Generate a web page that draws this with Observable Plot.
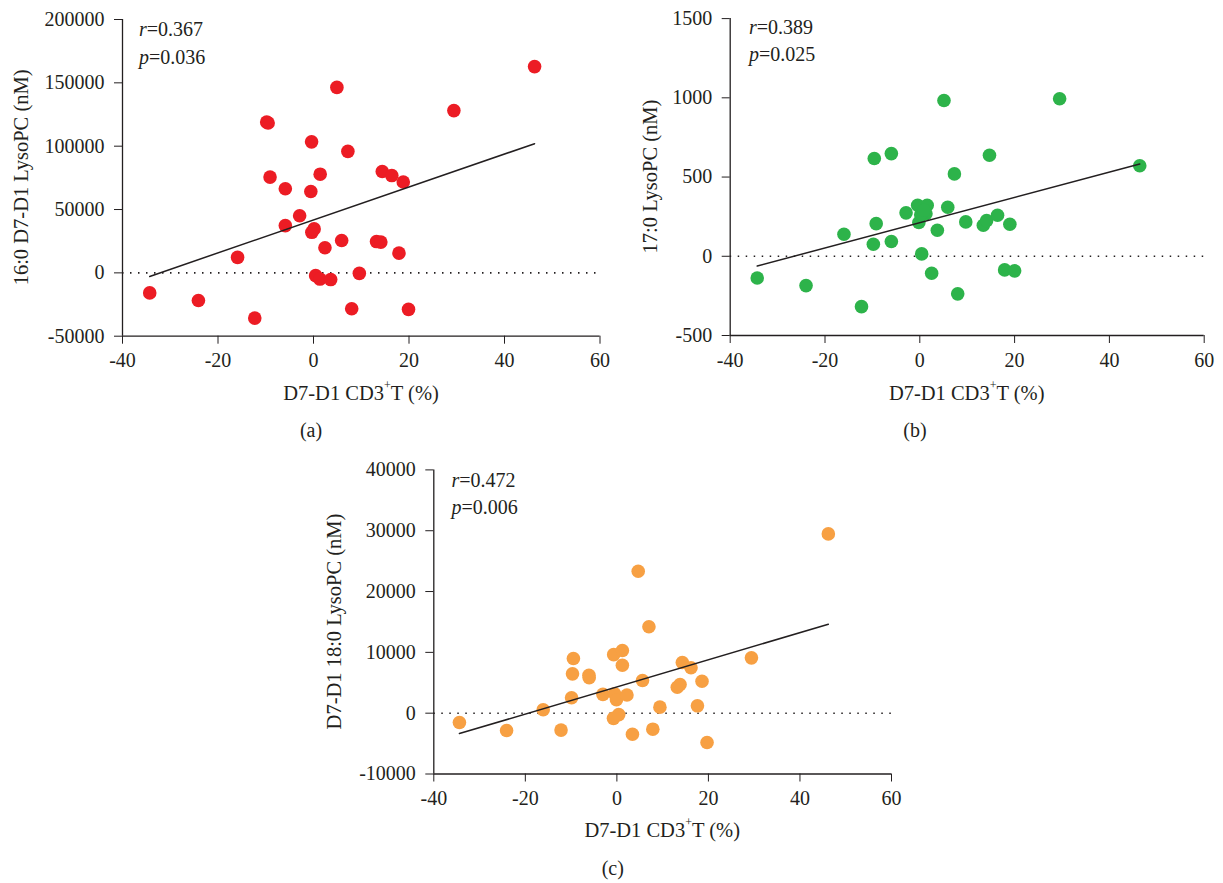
<!DOCTYPE html>
<html><head><meta charset="utf-8">
<script src="https://cdn.jsdelivr.net/npm/d3@7"></script>
<script src="https://cdn.jsdelivr.net/npm/@observablehq/plot@0.6"></script>
<style>
body{margin:0;background:#fff;}
#root{position:relative;width:1223px;height:883px;overflow:hidden;background:#fff;}
#root svg{position:absolute;overflow:visible;}
</style></head><body><div id="root"></div>
<script>
// shared x-axis ticks
const xTicks = [-40, -20, 0, 20, 40, 60];

// (a) 16:0 D7-D1 LysoPC
const aX = [-34.3, -24.1, -12.3, -15.9, -9.8, -9.5, -9.1, -5.9, -5.9, -2.9, -0.4, -0.56, -0.35, 0.13, 1.4, 2.4, 4.9, 7.2, 5.9, 0.45, 1.35, 3.6, 9.6, 8.0, 13.2, 14.1, 14.4, 16.4, 18.8, 17.9, 19.9, 29.4, 46.3];
const aY = [-15800, -21800, -35700, 12200, 119000, 118300, 75600, 66400, 37300, 45100, 103400, 64200, 32000, 34700, 77900, 19800, 146400, 95900, 25500, -2200, -4900, -5300, -400, -28300, 24700, 24300, 80000, 76800, 71700, 15600, -28800, 128100, 162800];
const aTicks = [-50000, 0, 50000, 100000, 150000, 200000];

// (b) 17:0 LysoPC
const bX = [-34.3, -24.0, -12.3, -16.0, -9.6, -9.2, -9.8, -6.0, -6.0, -2.9, -0.45, 1.56, 1.3, -0.2, 0.2, 0.9, 0.4, 2.5, 3.7, 5.1, 5.9, 7.3, 8.0, 9.7, 13.4, 14.1, 14.7, 16.4, 17.9, 19.0, 20.0, 29.5, 46.4];
const bY = [-137, -185, -318, 139, 617, 206, 76, 648, 93, 274, 322, 322, 268, 213, 262, 290, 15, -107, 164, 983, 309, 520, -237, 217, 196, 225, 638, 259, -86, 202, -92, 994, 571];
const bTicks = [-500, 0, 500, 1000, 1500];

// (c) D7-D1 18:0 LysoPC
const cX = [-34.4, -24.1, -12.2, -16.1, -9.5, -9.7, -9.9, -6.1, -6.05, -3.05, -0.7, 1.2, 1.2, -0.5, -0.1, 2.2, -0.74, 0.4, 4.66, 7.0, 5.6, 3.4, 9.4, 7.85, 13.2, 13.8, 14.3, 16.2, 18.6, 17.6, 19.7, 29.4, 46.2];
const cY = [-1530, -2840, -2780, 560, 9000, 6470, 2530, 6240, 5820, 3100, 9620, 10300, 7890, 3190, 2200, 3000, -850, -230, 23340, 14200, 5370, -3470, 990, -2630, 4270, 4720, 8330, 7460, 5260, 1210, -4820, 9100, 29480];
const cTicks = [-10000, 0, 10000, 20000, 30000, 40000];

const INK = "#231f20";
const FONT = "'Liberation Serif', 'Times New Roman', serif";

function panel(cfg) {
  const data = cfg.xs.map((x, i) => ({x, y: cfg.ys[i]}));
  const xd = [xTicks[0], xTicks[xTicks.length - 1]];
  const yd = [cfg.yTicks[0], cfg.yTicks[cfg.yTicks.length - 1]];
  const svg = Plot.plot({
    width: cfg.width, height: cfg.height,
    marginLeft: cfg.ml, marginRight: cfg.mr, marginTop: cfg.mt, marginBottom: cfg.mb,
    style: {fontSize: "20px", fontFamily: FONT, color: INK, background: "transparent", overflow: "visible"},
    x: {domain: xd, ticks: xTicks, tickSize: 8, tickPadding: 9, tickFormat: d => String(d), label: null},
    y: {domain: yd, ticks: cfg.yTicks, tickSize: 8, tickPadding: 10, tickFormat: d => String(d), label: null},
    marks: [
      Plot.ruleY([0], {stroke: INK, strokeWidth: 1.6, strokeDasharray: "1.5,6.5"}),
      Plot.ruleX([xd[0]], {stroke: INK, strokeWidth: 1.3}),
      Plot.ruleY([yd[0]], {stroke: INK, strokeWidth: 1.3}),
      Plot.dot(data, {x: "x", y: "y", r: 6.8, fill: cfg.color, stroke: "none"}),
      Plot.linearRegressionY(data, {x: "x", y: "y", ci: 0, stroke: INK, strokeWidth: 1.5})
    ]
  });
  svg.style.left = cfg.left + "px";
  svg.style.top = cfg.top + "px";
  const s = d3.select(svg);
  const t = (x, y, anchor) => s.append("text").attr("x", x).attr("y", y)
    .attr("text-anchor", anchor).attr("fill", INK)
    .style("font-family", FONT).style("font-size", "20px");
  // y title
  s.append("text").attr("transform", `translate(${cfg.ytx},${cfg.yty}) rotate(-90)`)
    .attr("text-anchor", "middle").attr("fill", INK)
    .style("font-family", FONT).style("font-size", "20.5px").text(cfg.yLabel);
  // x title with superscript
  const xt = t(cfg.xtx, cfg.xty, "middle").style("font-size", "20.5px");
  xt.append("tspan").text("D7-D1 CD3");
  xt.append("tspan").attr("dy", -11).style("font-size", "12px").text("+");
  xt.append("tspan").attr("dy", 11).text("T (%)");
  // panel tag
  t(cfg.tagx, cfg.tagy, "middle").text(cfg.tag);
  // r / p
  const r = t(cfg.rx, cfg.ry, "start");
  r.append("tspan").style("font-style", "italic").text("r");
  r.append("tspan").text("=" + cfg.r);
  const p = t(cfg.rx, cfg.ry + 27.5, "start");
  p.append("tspan").style("font-style", "italic").text("p");
  p.append("tspan").text("=" + cfg.p);
  document.getElementById("root").appendChild(svg);
}

panel({xs: aX, ys: aY, yTicks: aTicks, color: "#ec1c24", yLabel: "16:0 D7-D1 LysoPC (nM)",
  r: "0.367", p: "0.036", tag: "(a)",
  left: 0, top: 0, width: 625, height: 450, ml: 122, mr: 25.5, mt: 19, mb: 114.3,
  ytx: 28, yty: 177.4, xtx: 361, xty: 400, tagx: 311, tagy: 437, rx: 139, ry: 36});

panel({xs: bX, ys: bY, yTicks: bTicks, color: "#2db34a", yLabel: "17:0 LysoPC (nM)",
  r: "0.389", p: "0.025", tag: "(b)",
  left: 610, top: 0, width: 613, height: 450, ml: 119.7, mr: 19.3, mt: 18.1, mb: 115,
  ytx: 46.5, yty: 176.5, xtx: 356.7, xty: 400, tagx: 305, tagy: 437, rx: 139, ry: 33.8});

panel({xs: cX, ys: cY, yTicks: cTicks, color: "#f7a043", yLabel: "D7-D1 18:0 LysoPC (nM)",
  r: "0.472", p: "0.006", tag: "(c)",
  left: 300, top: 440, width: 620, height: 443, ml: 133.3, mr: 29, mt: 29.4, mb: 109.5,
  ytx: 41, yty: 181.5, xtx: 362.2, xty: 397, tagx: 312.8, tagy: 435, rx: 151.5, ry: 46.6});
</script>
</body></html>
